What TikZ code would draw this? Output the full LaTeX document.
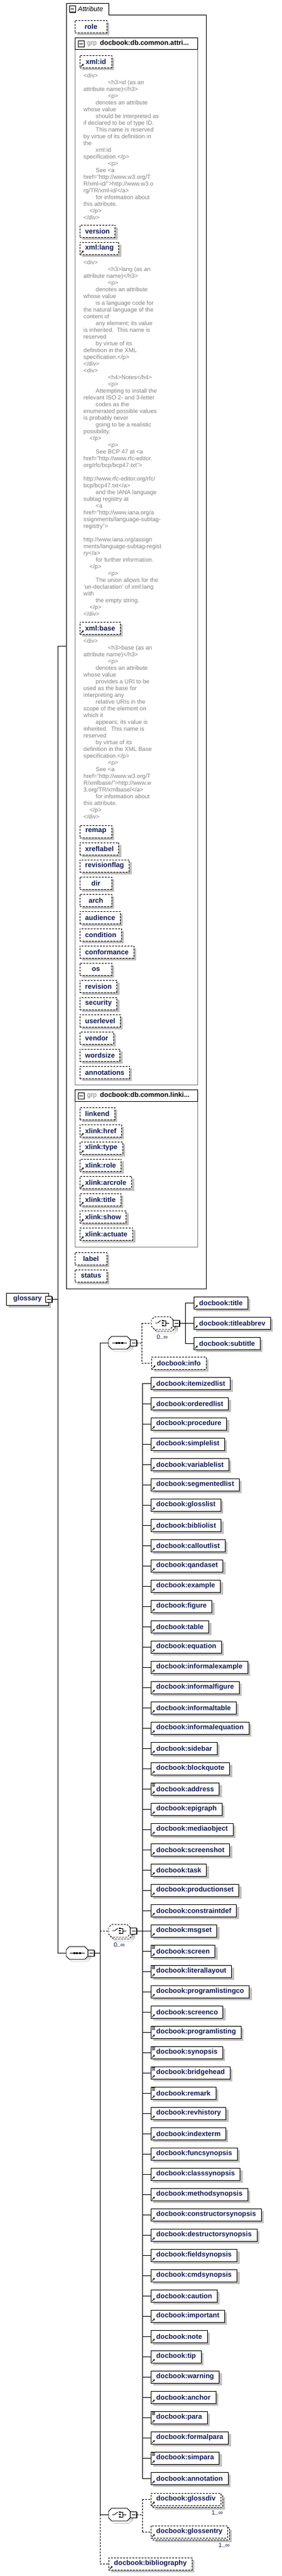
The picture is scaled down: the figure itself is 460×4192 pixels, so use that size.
\documentclass[tikz,border=0pt]{standalone}
\usepackage{fontspec}
\setmainfont{Liberation Sans}
\usetikzlibrary{calc,arrows.meta,positioning}

\definecolor{ink}{RGB}{16,24,80}
\definecolor{shade}{RGB}{192,192,192}
\definecolor{docgrey}{RGB}{128,128,128}

\newcommand\namefont{\fontsize{11.3}{13}\selectfont\bfseries}
\newcommand\docfont{\fontsize{9.6}{11}\selectfont}
\newcommand\ind[1]{\hspace*{#1pt}}

\tikzset{
  conn/.style={line width=0.9pt},
  optional/.style={dash pattern=on 3pt off 2pt},
  box/.style={draw, conn, fill=white, minimum height=20pt, inner ysep=0pt, inner xsep=8.5pt,
    font=\namefont, text=ink, anchor=west,
    preaction={fill=shade, transform canvas={shift={(4pt,-4pt)}}}},
  multibox/.style={draw, conn, fill=white, minimum height=20pt, inner ysep=0pt, inner xsep=8.5pt,
    font=\namefont, text=ink, anchor=west, optional,
    preaction={fill=shade, transform canvas={shift={(7pt,-7pt)}}},
    preaction={draw, fill=white, transform canvas={shift={(3pt,-3pt)}}}},
  attr/.style={box, optional, minimum width=52pt},
  elem/.style={box},
  minus/.style={draw, conn, fill=white, minimum size=10pt, inner sep=0pt,
    preaction={fill=black, transform canvas={shift={(1.3pt,-1.3pt)}}},
    path picture={\draw[conn] ([xshift=2pt]path picture bounding box.west) -- ([xshift=-2pt]path picture bounding box.east);}},
  compo/.style={minimum width=35pt, minimum height=20pt, inner sep=0pt, anchor=west},
  doc/.style={font=\docfont, text=docgrey, anchor=base west, inner sep=0pt},
  occ/.style={font=\fontsize{10}{12}\selectfont, text=ink, inner sep=0pt},
  refarrow/.style={line width=0.9pt, -{Triangle[length=2.6pt,width=3pt]}},
}

% octagon round a compositor node, shifted by #2,#3
\newcommand\octapath[3]{($(#1.north west)+(5+#2,#3)$) -- ($(#1.north east)+(-5+#2,#3)$) -- ($(#1.north east)+(#2,5+#3)$) -- ($(#1.south east)+(#2,-5+#3)$) -- ($(#1.south east)+(-5+#2,#3)$) -- ($(#1.south west)+(5+#2,#3)$) -- ($(#1.south west)+(#2,-5+#3)$) -- ($(#1.north west)+(#2,5+#3)$) -- cycle}
\newcommand\drawcompo[2][]{\fill[shade] \octapath{#2}{4}{4}; \filldraw[fill=white, conn, #1] \octapath{#2}{0}{0};}
\newcommand\drawmulti[1]{\fill[shade] \octapath{#1}{7}{7}; \filldraw[fill=white, conn, optional] \octapath{#1}{3}{3}; \filldraw[fill=white, conn, optional] \octapath{#1}{0}{0};}
\newcommand\seqicon[1]{\draw[conn] ($(#1.west)+(6,0)$) -- ($(#1.east)+(-5,0)$);
  \foreach \d in {-4.5,0,4.5} \fill ($(#1.center)+(\d-1.5,-1.5)$) rectangle ++(3,3);}
\newcommand\choiceicon[1]{\draw[conn] ($(#1.west)+(6,0)$) -- ++(4,0) -- ++(5,-4);
  \foreach \d in {-4,0,4} \fill ($(#1.center)+(-0.5,\d-1.25)$) rectangle ++(2.5,2.5);
  \draw[conn] ($(#1.center)+(2,-4)$) -- ++(3.5,0) -- ++(0,8) -- ++(-3.5,0);
  \draw[conn] ($(#1.center)+(5.5,0)$) -- ($(#1.east)+(-6,0)$);}
\newcommand\refmark[1]{\draw[refarrow] ($(#1.south west)+(2,-2)$) -- ++(4.5,-4.5);}
\newcommand\mixmark[1]{\foreach \k in {2,4,6} \draw[line width=0.7pt] ($(#1.north west)+(2,\k)$) -- ++(5,0);}

\begin{document}
\begin{tikzpicture}[x=1pt, y=-1pt]
\useasboundingbox (0,0) rectangle (460,4192);

% attribute frame
\node[minimum width=228pt, minimum height=2092pt, anchor=north west, inner sep=0pt] (attrs) at (108,5) {};
\draw[conn] (108,5) -- (177,5) -- (177,24) -- (336,24) -- (336,2097) -- (108,2097) -- cycle;
\node[minus] (attrs-m) at (118,14.5) {};
\node[anchor=west, inner sep=0pt, font=\fontsize{11}{13}\selectfont\itshape] (attrs-t) at (127,14.5) {Attribute};

\node[attr] (role) at (122,43) {role};

% group docbook:db.common.attributes
\draw[docgrey, conn] (122,80) -- (122,1765) -- (322,1765) -- (322,80);
\draw[conn] (122,61) rectangle (322,80);
\node[minus] (grp1-m) at (132,71) {};
\node[anchor=west, inner sep=0pt, font=\fontsize{11}{13}\selectfont] (grp1-t) at (142,71)
  {\textcolor{docgrey}{grp}\hspace{5pt}{\bfseries docbook:db.common.attri...}};

\node[attr] (xml-id) at (130,100) {xml:id};
\refmark{xml-id}
\foreach \t [count=\i from 0] in {{<div>},{\ind{40}<h3>id (as an},{attribute name)</h3>},{\ind{40}<p>},
  {\ind{20}denotes an attribute},{whose value},{\ind{20}should be interpreted as},{if declared to be of type ID.},
  {\ind{20}This name is reserved},{by virtue of its definition in},{the},{\ind{20}xml:id},{specification.</p>},
  {\ind{40}<p>},{\ind{20}See <a},{href="http://www.w3.org/T},{R/xml-id/">http://www.w3.o},{rg/TR/xml-id/</a>},
  {\ind{20}for information about},{this attribute.},{\ind{10}</p>},{</div>}}
  \node[doc] (iddoc\i) at (136,126+11*\i) {\t};

\node[attr] (version) at (130,376) {version};
\node[attr] (xml-lang) at (130,404) {xml:lang};
\refmark{xml-lang}
\foreach \t [count=\i from 0] in {{<div>},{\ind{40}<h3>lang (as an},{attribute name)</h3>},{\ind{40}<p>},
  {\ind{20}denotes an attribute},{whose value},{\ind{20}is a language code for},{the natural language of the},
  {content of},{\ind{20}any element; its value},{is inherited.\ \ This name is},{reserved},{\ind{20}by virtue of its},
  {definition in the XML},{specification.</p>},{</div>},{<div>},{\ind{40}<h4>Notes</h4>},{\ind{40}<p>},
  {\ind{20}Attempting to install the},{relevant ISO 2- and 3-letter},{\ind{20}codes as the},
  {enumerated possible values},{is probably never},{\ind{20}going to be a realistic},{possibility.},
  {\ind{10}</p>},{\ind{40}<p>},{\ind{20}See BCP 47 at <a},{href="http://www.rfc-editor.},
  {org/rfc/bcp/bcp47.txt">},{},{http://www.rfc-editor.org/rfc/},{bcp/bcp47.txt</a>},
  {\ind{20}and the IANA language},{subtag registry at},{\ind{20}<a},{href="http://www.iana.org/a},
  {ssignments/language-subtag-},{registry">},{},{http://www.iana.org/assign},
  {ments/language-subtag-regist},{ry</a>},{\ind{20}for further information.},{\ind{10}</p>},
  {\ind{40}<p>},{\ind{20}The union allows for the},{{\char39}un-declaration{\char39} of xml:lang},{with},
  {\ind{20}the empty string.},{\ind{10}</p>},{</div>}}
  \node[doc] (langdoc\i) at (136,430+11*\i) {\t};

\node[attr] (xml-base) at (130,1022) {xml:base};
\refmark{xml-base}
\foreach \t [count=\i from 0] in {{<div>},{\ind{40}<h3>base (as an},{attribute name)</h3>},{\ind{40}<p>},
  {\ind{20}denotes an attribute},{whose value},{\ind{20}provides a URI to be},{used as the base for},
  {interpreting any},{\ind{20}relative URIs in the},{scope of the element on},{which it},
  {\ind{20}appears; its value is},{inherited.\ \ This name is},{reserved},{\ind{20}by virtue of its},
  {definition in the XML Base},{specification.</p>},{\ind{40}<p>},{\ind{20}See <a},
  {href="http://www.w3.org/T},{R/xmlbase/">http://www.w},{3.org/TR/xmlbase/</a>},
  {\ind{20}for information about},{this attribute.},{\ind{10}</p>},{</div>}}
  \node[doc] (basedoc\i) at (136,1046+11*\i) {\t};

\foreach \n [count=\i from 0] in {remap,xreflabel,revisionflag,dir,arch,audience,condition,conformance,
  os,revision,security,userlevel,vendor,wordsize,annotations}
  \node[attr] (a-\n) at (130,1353+28*\i) {\n};

% group docbook:db.common.linking.attributes
\draw[docgrey, conn] (122,1792) -- (122,2029) -- (322,2029) -- (322,1792);
\draw[conn] (122,1773) rectangle (322,1792);
\node[minus] (grp2-m) at (132,1783) {};
\node[anchor=west, inner sep=0pt, font=\fontsize{11}{13}\selectfont] (grp2-t) at (142,1783)
  {\textcolor{docgrey}{grp}\hspace{5pt}{\bfseries docbook:db.common.linki...}};
\node[attr] (linkend) at (130,1812) {linkend};
\foreach \n [count=\i from 0] in {href,type,role,arcrole,title,show,actuate}{
  \node[attr] (xl-\n) at (130,1840+28*\i) {xlink:\n};
  \refmark{xl-\n}
}

\node[attr] (label) at (122,2048) {label};
\node[attr] (status) at (122,2076) {status};

% the element itself
\node[elem, minimum width=69pt] (glossary) at (10,2114) {glossary};
\node[minus] (glossary-m) at (glossary.east) {};
\coordinate (gbus) at ($(glossary-m.east)+(9,0)$);

\node[compo] (mseq) at (108,3178) {};
\drawcompo{mseq}
\seqicon{mseq}
\node[minus, anchor=west] (mseq-m) at (mseq.east) {};
\coordinate (mbus) at ($(mseq-m.east)+(9,0)$);

\draw[conn] (glossary-m.east) -- (gbus);
\draw[conn] (gbus |- attrs.west) -- (gbus |- mseq.west);
\draw[conn] (gbus |- attrs.west) -- (attrs.west);
\draw[conn] (gbus |- mseq.west) -- (mseq.west);

% children of the main sequence
\node[compo] (iseq) at (177,2185) {};
\drawcompo{iseq}
\seqicon{iseq}
\node[minus, anchor=west] (iseq-m) at (iseq.east) {};

\node[compo] (bchoice) at (177,3142) {};
\drawmulti{bchoice}
\choiceicon{bchoice}
\node[minus, anchor=west] (bchoice-m) at (bchoice.east) {};
\node[occ, below=9pt of bchoice] (bchoice-o) {0..∞};

\node[compo] (gchoice) at (177,4092) {};
\drawcompo{gchoice}
\choiceicon{gchoice}
\node[minus, anchor=west] (gchoice-m) at (gchoice.east) {};

\node[elem, optional] (biblio) at (177,4172) {docbook:bibliography};
\refmark{biblio}

\draw[conn] (mseq-m.east) -- (mbus |- mseq.east);
\draw[conn] (mbus |- iseq.west) -- (mbus |- gchoice.west);
\draw[conn, optional] (mbus |- gchoice.west) -- (mbus |- biblio.west);
\draw[conn] (mbus |- iseq.west) -- (iseq.west);
\draw[conn, optional] (mbus |- bchoice.west) -- (bchoice.west);
\draw[conn] (mbus |- gchoice.west) -- (gchoice.west);
\draw[conn, optional] (mbus |- biblio.west) -- (biblio.west);

% title part
\coordinate (ibus) at ($(iseq-m.east)+(8,0)$);
\node[compo] (tchoice) at (247,2153) {};
\drawmulti{tchoice}
\choiceicon{tchoice}
\node[minus, anchor=west] (tchoice-m) at (tchoice.east) {};
\node[occ, below=9pt of tchoice] (tchoice-o) {0..∞};
\node[elem, optional] (info) at (247,2218) {docbook:info};
\refmark{info}
\draw[conn, optional] (iseq-m.east) -- (ibus);
\draw[conn, optional] (ibus |- tchoice.west) -- (ibus |- info.west);
\draw[conn, optional] (ibus |- tchoice.west) -- (tchoice.west);
\draw[conn, optional] (ibus |- info.west) -- (info.west);

\coordinate (tbus) at ($(tchoice-m.east)+(9,0)$);
\draw[conn] (tchoice-m.east) -- (tbus);
\foreach \n [count=\i from 0] in {title,titleabbrev,subtitle}{
  \node[elem] (ttl\i) at (316,2120+33*\i) {docbook:\n};
  \refmark{ttl\i}
  \draw[conn] (tbus |- ttl\i.west) -- (ttl\i.west);
}
\draw[conn] (tbus |- ttl0.west) -- (tbus |- ttl2.west);

% block choice
\coordinate (cbus) at ($(bchoice-m.east)+(9,0)$);
\draw[conn] (bchoice-m.east) -- (cbus);
\foreach \n [count=\i from 0] in {itemizedlist,orderedlist,procedure,simplelist,variablelist,
  segmentedlist,glosslist,bibliolist,calloutlist,qandaset,example,figure,table,equation,
  informalexample,informalfigure,informaltable,informalequation,sidebar,blockquote,address,
  epigraph,mediaobject,screenshot,task,productionset,constraintdef,msgset,screen,literallayout,
  programlistingco,screenco,programlisting,synopsis,bridgehead,remark,revhistory,indexterm,
  funcsynopsis,classsynopsis,methodsynopsis,constructorsynopsis,destructorsynopsis,
  fieldsynopsis,cmdsynopsis,caution,important,note,tip,warning,anchor,para,formalpara,
  simpara,annotation}{
  \node[elem] (blk\i) at (246,2251+33*\i) {docbook:\n};
  \refmark{blk\i}
  \draw[conn] (cbus |- blk\i.west) -- (blk\i.west);
}
\foreach \i in {20,28,29,32,33,34,35,51,53} \mixmark{blk\i};
\draw[conn] (cbus |- blk0.west) -- (cbus |- blk54.west);

% gloss choice
\coordinate (dbus) at ($(gchoice-m.east)+(9,0)$);
\node[multibox] (glossdiv) at (246,4067) {docbook:glossdiv};
\refmark{glossdiv}
\node[multibox] (glossentry) at (246,4120) {docbook:glossentry};
\refmark{glossentry}
\node[occ, anchor=north east] (glossdiv-o) at ($(glossdiv.south east)+(3,8)$) {1..∞};
\node[occ, anchor=north east] (glossentry-o) at ($(glossentry.south east)+(3,8)$) {1..∞};
\draw[conn, optional] (gchoice-m.east) -- (dbus);
\draw[conn, optional] (dbus |- glossdiv.west) -- (dbus |- glossentry.west);
\draw[conn, optional] (dbus |- glossdiv.west) -- (glossdiv.west);
\draw[conn, optional] (dbus |- glossentry.west) -- (glossentry.west);
\end{tikzpicture}
\end{document}
